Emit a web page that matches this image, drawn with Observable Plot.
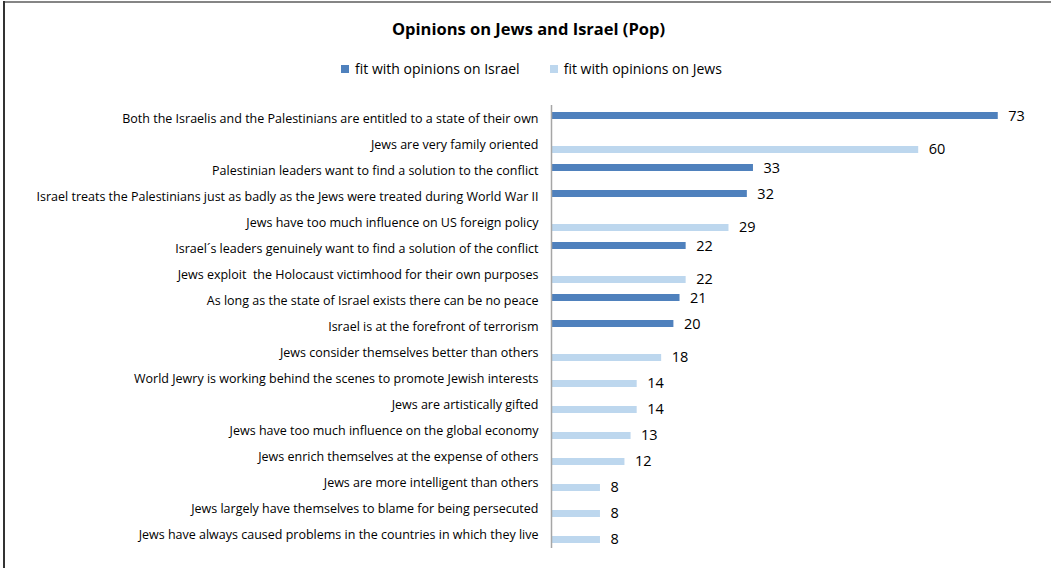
<!DOCTYPE html>
<html>
<head>
<meta charset="utf-8">
<script src="https://cdn.jsdelivr.net/npm/d3@7"></script>
<script src="https://cdn.jsdelivr.net/npm/@observablehq/plot@0.6"></script>
<style>
  html, body { margin: 0; padding: 0; background: #fff; }
  #wrap { position: relative; width: 1051px; height: 568px; overflow: hidden; font-family: "Open Sans", sans-serif; color: #000; }
  #topline { position: absolute; left: 3px; top: 1px; width: 1048px; height: 2px; background: #858585; }
  #leftline { position: absolute; left: 3px; top: 1px; width: 2px; height: 567px; background: #333; }
  #title { position: absolute; left: 0; width: 1057px; top: 18px; line-height: 22px; text-align: center; font-weight: bold; font-size: 16.5px; }
  #legend { position: absolute; left: 0; width: 1063px; top: 59px; line-height: 18px; text-align: center; font-size: 14px; }
  .item { display: inline-flex; align-items: center; margin: 0 15px; }
  .sw { display: inline-block; width: 8px; height: 8px; margin-right: 6px; }
  #chart { position: absolute; left: 0; top: 88px; }
  #chart svg text { white-space: pre; }
</style>
</head>
<body>
<div id="wrap">
  <div id="topline"></div>
  <div id="leftline"></div>
  <div id="title"></div>
  <div id="legend"></div>
  <div id="chart"></div>
</div>
<script>
const title = "Opinions on Jews and Israel (Pop)";
const seriesNames = ["fit with opinions on Israel", "fit with opinions on Jews"];
const seriesColors = ["#4F81BD", "#BDD7EE"];
const categories = [
  "Both the Israelis and the Palestinians are entitled to a state of their own",
  "Jews are very family oriented",
  "Palestinian leaders want to find a solution to the conflict",
  "Israel treats the Palestinians just as badly as the Jews were treated during World War II",
  "Jews have too much influence on US foreign policy",
  "Israel´s leaders genuinely want to find a solution of the conflict",
  "Jews exploit  the Holocaust victimhood for their own purposes",
  "As long as the state of Israel exists there can be no peace",
  "Israel is at the forefront of terrorism",
  "Jews consider themselves better than others",
  "World Jewry is working behind the scenes to promote Jewish interests",
  "Jews are artistically gifted",
  "Jews have too much influence on the global economy",
  "Jews enrich themselves at the expense of others",
  "Jews are more intelligent than others",
  "Jews largely have themselves to blame for being persecuted",
  "Jews have always caused problems in the countries in which they live"
];
const israelValues = [73, null, 33, 32, null, 22, null, 21, 20, null, null, null, null, null, null, null, null];
const jewsValues   = [null, 60, null, null, 29, null, 22, null, null, 18, 14, 14, 13, 12, 8, 8, 8];

document.getElementById("title").textContent = title;
const legend = document.getElementById("legend");
seriesNames.forEach((n, i) => {
  const it = document.createElement("span");
  it.className = "item";
  const sw = document.createElement("span");
  sw.className = "sw";
  sw.style.background = seriesColors[i];
  it.appendChild(sw);
  it.appendChild(document.createTextNode(n));
  legend.appendChild(it);
});

const israelRows = categories.map((c, i) => ({category: c, value: israelValues[i]})).filter(d => d.value != null);
const jewsRows = categories.map((c, i) => ({category: c, value: jewsValues[i]})).filter(d => d.value != null);

const chart = Plot.plot({
  width: 1051,
  height: 480,
  marginTop: 17,
  marginBottom: 20,
  marginLeft: 551,
  marginRight: 10.4,
  style: {fontFamily: "'Open Sans', sans-serif", color: "#000", background: "transparent"},
  x: {domain: [0, 80], axis: null},
  y: {domain: categories, padding: 0, axis: null},
  marks: [
    Plot.axisY({tickSize: 0, tickPadding: 13, label: null, fontSize: 12.5, dy: -1}),
    Plot.barX(israelRows, {x: "value", y: "category", fill: seriesColors[0], insetTop: 6, insetBottom: 13}),
    Plot.barX(jewsRows, {x: "value", y: "category", fill: seriesColors[1], insetTop: 14, insetBottom: 5}),
    Plot.ruleX([0], {stroke: "#A6A6A6", strokeWidth: 1.5}),
    Plot.text(israelRows, {x: "value", y: "category", text: d => String(d.value), dx: 10, dy: -3, textAnchor: "start", fontSize: 14.5, fill: "#000"}),
    Plot.text(jewsRows, {x: "value", y: "category", text: d => String(d.value), dx: 10, dy: 4, textAnchor: "start", fontSize: 14.5, fill: "#000"})
  ]
});
document.getElementById("chart").appendChild(chart);
</script>
</body>
</html>
